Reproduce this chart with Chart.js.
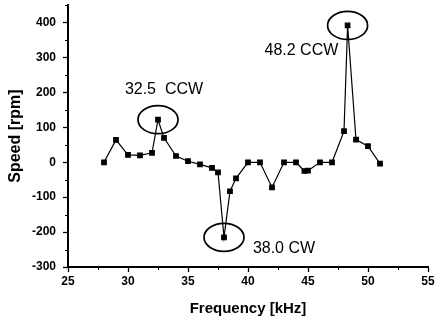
<!DOCTYPE html>
<html>
<head>
<meta charset="utf-8">
<script src="https://cdn.jsdelivr.net/npm/chart.js@4/dist/chart.umd.min.js"></script>
<style>
  html, body { margin: 0; padding: 0; background: #fff; }
  #wrap { width: 435px; height: 322px; position: relative; }
</style>
</head>
<body>
<div id="wrap"><canvas id="c"></canvas></div>
<script>
'use strict';

// data
const freq  = [28, 29, 30, 31, 32, 32.5, 33, 34, 35, 36, 37, 37.5, 38, 38.5, 39, 40, 41, 42, 43, 44, 44.7, 45, 46, 47, 48, 48.3, 49, 50, 51];
const speed = [0, 64, 21, 20, 27, 122, 70, 18, 3, -6, -16, -29, -215, -83, -46, 0, 0, -72, 0, 0, -25, -24, 0, 0, 89, 392, 65, 46, -4];

const xTicks = [25, 30, 35, 40, 45, 50, 55];
const yTicks = [-300, -200, -100, 0, 100, 200, 300, 400];

// circled points and their labels
const circled    = [5, 12, 25];
const noteText   = ['32.5  CCW', '38.0 CW', '48.2 CCW'];
const noteX      = [33.0, 43.0, 44.45];
const noteY      = [207, -246, 321];

const FONT = '"Liberation Sans", Arial, sans-serif';

const notes = {
  id: 'notes',
  afterDatasetsDraw(chart) {
    const { ctx, scales: { x, y } } = chart;
    ctx.save();
    ctx.strokeStyle = '#000';
    ctx.lineWidth = 1.7;
    circled.forEach(i => {
      ctx.beginPath();
      ctx.ellipse(x.getPixelForValue(freq[i]), y.getPixelForValue(speed[i]), 20, 14, 0, 0, Math.PI * 2);
      ctx.stroke();
    });
    ctx.fillStyle = '#000';
    ctx.font = '16px ' + FONT;
    ctx.textAlign = 'center';
    ctx.textBaseline = 'middle';
    noteText.forEach((t, i) => {
      ctx.fillText(t, x.getPixelForValue(noteX[i]), y.getPixelForValue(noteY[i]));
    });
    ctx.restore();
  },
  // minor ticks between the labelled ones
  afterDraw(chart) {
    const { ctx, scales: { x, y } } = chart;
    ctx.save();
    ctx.strokeStyle = '#000';
    ctx.lineWidth = 1;
    for (let v = 27.5; v < 55; v += 5) {
      const px = Math.round(x.getPixelForValue(v)) + 0.5;
      ctx.beginPath();
      ctx.moveTo(px, y.bottom);
      ctx.lineTo(px, y.bottom + 3);
      ctx.stroke();
    }
    for (let v = -250; v <= 450; v += 100) {
      const py = Math.round(y.getPixelForValue(v)) + 0.5;
      ctx.beginPath();
      ctx.moveTo(x.left, py);
      ctx.lineTo(x.left - 3, py);
      ctx.stroke();
    }
    ctx.restore();
  }
};

new Chart(document.getElementById('c'), {
  type: 'line',
  data: {
    datasets: [{
      data: freq.map((f, i) => ({ x: f, y: speed[i] })),
      borderColor: '#000',
      backgroundColor: '#000',
      borderWidth: 1.2,
      pointStyle: 'rect',
      pointRadius: 3.2,
      tension: 0,
    }],
  },
  options: {
    responsive: true,
    maintainAspectRatio: false,
    animation: false,
    layout: { padding: { top: 3, right: 7, left: 0, bottom: 0 } },
    plugins: { legend: { display: false }, tooltip: { enabled: false } },
    scales: {
      x: {
        type: 'linear',
        min: 25,
        max: 55,
        afterFit: s => { s.height = 55; s.paddingLeft = 0; s.paddingRight = 0; },
        afterBuildTicks: s => { s.ticks = xTicks.map(v => ({ value: v })); },
        border: { color: '#000', width: 2 },
        grid: { drawOnChartArea: false, tickLength: 5, tickColor: '#000', tickWidth: 1.3 },
        ticks: { color: '#000', padding: 2, font: { family: FONT, size: 12, weight: 'bold' } },
        title: { display: true, text: 'Frequency [kHz]', color: '#000', padding: { top: 5 }, font: { family: FONT, size: 15, weight: 'bold' } },
      },
      y: {
        type: 'linear',
        min: -300,
        max: 450,
        afterFit: s => { s.width = 68; s.paddingTop = 0; s.paddingBottom = 0; },
        afterBuildTicks: s => { s.ticks = yTicks.map(v => ({ value: v })); },
        border: { color: '#000', width: 2 },
        grid: { drawOnChartArea: false, tickLength: 5, tickColor: '#000', tickWidth: 1.3 },
        ticks: { color: '#000', padding: 7, font: { family: FONT, size: 12, weight: 'bold' } },
        title: { display: true, text: 'Speed [rpm]', color: '#000', padding: { top: 6, bottom: 8 }, font: { family: FONT, size: 16, weight: 'bold' } },
      },
    },
  },
  plugins: [notes],
});
</script>
</body>
</html>
